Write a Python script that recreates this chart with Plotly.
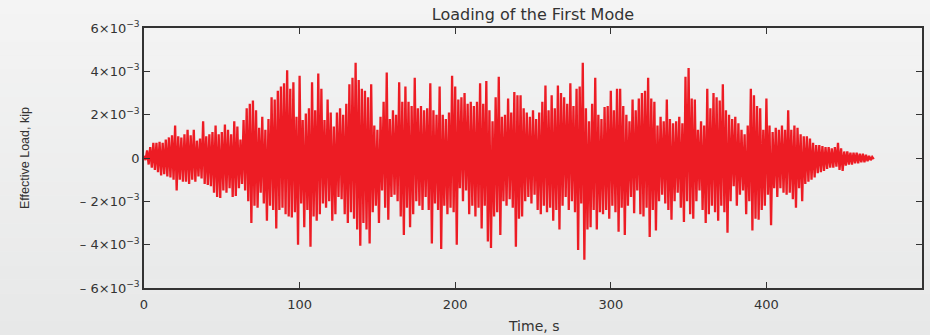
import numpy as np
import plotly.graph_objects as go

# Peak loads (units of 1e-3 kip), one positive and one negative peak per 2 s window
peak_time = list(range(0, 470, 2))
pos_peak = [
    0.1, 0.35, 0.5, 0.7, 0.7, 0.75, 0.7, 0.85, 0.95, 1.05, 1.5,
    1.0, 0.95, 1.1, 1.3, 1.05, 1.3, 0.8, 0.9, 1.7, 1.0,
    1.1, 1.2, 1.5, 1.1, 1.2, 1.55, 1.3, 1.1, 1.7, 1.45,
    0.85, 1.75, 2.3, 2.5, 2.65, 2.2, 1.4, 1.9, 1.3, 1.8,
    2.8, 2.7, 3.1, 3.3, 3.45, 4.05, 3.2, 3.5, 1.9, 3.8,
    1.75, 2.05, 2.3, 3.5, 2.2, 3.9, 3.2, 1.75, 2.7, 2.1,
    1.45, 2.1, 2.3, 2.0, 2.5, 3.4, 3.7, 4.4, 3.6, 3.2,
    3.1, 2.8, 3.4, 1.5, 1.3, 1.9, 2.6, 3.95, 1.8, 2.2,
    2.0, 3.5, 2.6, 3.3, 2.6, 2.4, 3.7, 2.3, 2.4, 2.2,
    2.3, 3.45, 2.2, 2.0, 3.3, 2.0, 1.8, 2.1, 3.8, 3.3,
    2.7, 2.8, 3.0, 2.5, 2.6, 2.4, 2.6, 3.45, 2.5, 3.55,
    2.2, 1.7, 2.8, 3.75, 1.9, 2.0, 2.75, 2.1, 3.05, 2.9,
    2.9, 2.3, 2.1, 1.9, 2.2, 1.8, 2.1, 2.6, 3.35, 2.2,
    2.9, 2.3, 3.35, 3.0, 2.8, 2.5, 3.45, 2.4, 3.2, 3.3,
    4.4, 2.3, 1.7, 2.5, 3.7, 2.0, 1.8, 2.35, 2.4, 3.1,
    2.2, 3.2, 3.2, 2.4, 2.0, 1.7, 2.7, 2.2, 2.75, 3.0,
    3.1, 3.7, 2.75, 2.6, 1.5, 1.9, 1.7, 2.7, 1.8, 1.6,
    1.7, 1.9, 1.6, 3.75, 4.15, 2.75, 2.7, 1.3, 1.7, 1.5,
    3.2, 2.3, 3.0, 2.8, 2.65, 3.4, 2.2, 2.0, 1.8, 1.9,
    1.6, 1.3, 1.1, 1.5, 3.2, 2.9, 2.4, 2.3, 1.3, 2.75,
    1.5, 1.2, 1.4, 1.3, 1.5, 1.3, 2.2, 1.3, 1.5, 1.4,
    1.1, 1.0, 1.0, 0.9, 0.7, 0.6, 0.6, 0.55, 0.5, 0.5,
    0.45, 0.5, 0.7, 0.45, 0.3, 0.3, 0.25, 0.25, 0.25, 0.2,
    0.2, 0.15, 0.1, 0.05,
]
neg_peak = [
    0.1, 0.3, 0.45, 0.55, 0.65, 0.8, 0.75, 0.85, 0.9, 1.0, 1.5,
    1.0, 1.1, 1.1, 1.2, 1.0, 1.1, 0.85, 0.95, 1.2, 1.25,
    1.3, 1.6, 1.8, 1.85, 1.5, 1.6, 1.4, 1.8, 1.75, 1.4,
    1.2, 1.5, 2.0, 3.0, 2.2, 2.3, 1.6, 2.1, 2.9, 2.2,
    2.4, 3.25, 2.4, 2.3, 2.6, 2.7, 2.75, 2.5, 4.0, 2.1,
    3.2, 2.4, 4.1, 2.7, 2.9, 2.6, 2.1, 2.3, 2.0, 2.9,
    2.6, 1.8, 1.9, 2.6, 3.0, 2.5, 2.8, 3.3, 4.05, 3.0,
    3.3, 3.95, 2.5, 2.2, 3.0, 1.5, 2.3, 2.85, 1.8, 1.7,
    2.0, 2.7, 3.55, 2.3, 3.2, 2.6, 2.0, 2.2, 2.4, 1.8,
    2.4, 3.95, 2.1, 2.4, 4.2, 2.2, 2.6, 2.3, 2.5, 4.0,
    1.4, 2.0, 1.5, 2.6, 2.2, 2.7, 2.3, 3.25, 2.2, 3.85,
    4.15, 2.7, 2.5, 3.55, 2.0, 2.2, 1.9, 2.3, 4.1, 2.8,
    2.7, 2.0, 1.8, 2.1, 1.7, 2.4, 2.6, 2.2, 2.5, 2.3,
    2.9, 2.4, 3.3, 2.2, 1.8, 2.4, 2.0, 2.5, 4.25, 2.1,
    4.7, 3.3, 3.2, 2.4, 3.3, 2.5, 2.6, 2.4, 2.8, 2.2,
    2.5, 3.4, 2.3, 3.55, 2.2, 1.8, 2.55, 1.5, 2.6, 2.7,
    2.3, 3.65, 2.4, 3.35, 2.0, 1.7, 2.1, 2.4, 2.85, 2.0,
    1.6, 2.3, 2.95, 2.0, 2.6, 2.8, 2.0, 1.5, 2.4, 3.0,
    2.6, 2.2, 2.5, 2.9, 2.2, 2.5, 3.45, 2.0, 1.3, 2.2,
    1.7, 1.5, 2.6, 2.0, 3.35, 2.8, 2.85, 2.4, 2.2, 1.7,
    3.1, 1.4, 1.8, 1.4, 1.6, 1.7, 1.6, 1.9, 2.3, 1.4,
    2.0, 1.2, 1.1, 1.0, 0.9, 0.7, 0.65, 0.6, 0.5, 0.45,
    0.45, 0.4, 0.55, 0.6, 0.35, 0.3, 0.3, 0.25, 0.25, 0.2,
    0.2, 0.15, 0.1, 0.05,
]

y_tickvals = [-6, -4, -2, 0, 2, 4, 6]
y_ticktext = ["\u2013 6\u00d710<sup>\u22123</sup>", "\u2013 4\u00d710<sup>\u22123</sup>",
              "\u2013 2\u00d710<sup>\u22123</sup>", "0",
              "2\u00d710<sup>\u22123</sup>", "4\u00d710<sup>\u22123</sup>",
              "6\u00d710<sup>\u22123</sup>"]
x_tickvals = [0, 100, 200, 300, 400]

# Interleave positive and negative peaks into one oscillating record
n = min(len(peak_time), len(pos_peak), len(neg_peak))
t = np.empty(2 * n)
load = np.empty(2 * n)
t[0::2] = np.array(peak_time[:n], dtype=float)
t[1::2] = np.array(peak_time[:n], dtype=float) + 1.0
load[0::2] = np.array(pos_peak[:n]) * 1e-3
load[1::2] = -np.array(neg_peak[:n]) * 1e-3

RED = "#ed1c24"
fig = go.Figure()
fig.add_trace(go.Scatter(x=t, y=load, mode="lines",
                         line=dict(color=RED, width=2.3),
                         hoverinfo="skip", showlegend=False))

# soft vertical background gradient
W, H = 930, 335
ml, mr, mt, mb = 144, 8, 28, 47
pw, ph = W - ml - mr, H - mt - mb
bands = 24
top_c = np.array([244, 244, 244])
bot_c = np.array([231, 232, 232])
shapes = []
for k in range(bands):
    f = (k + 0.5) / bands
    c = top_c + (bot_c - top_c) * f
    y_top = H * (1 - k / bands)
    y_bot = H * (1 - (k + 1) / bands)
    shapes.append(dict(
        type="rect", xref="paper", yref="paper", layer="below",
        x0=-ml / pw, x1=1 + mr / pw,
        y0=(y_bot - mb) / ph, y1=(y_top - mb) / ph,
        line=dict(width=0),
        fillcolor="rgb(%d,%d,%d)" % tuple(int(round(v)) for v in c)))

FONT = "DejaVu Sans"
INK = "#333333"
axis_common = dict(showline=True, linecolor=INK, linewidth=1.6,
                   mirror="ticks", ticks="inside", ticklen=6, tickwidth=1.2,
                   tickcolor=INK, showgrid=False, zeroline=False,
                   automargin=False,
                   tickfont=dict(family=FONT, size=13, color=INK))

# axis titles placed in pixel terms relative to the plot area
annotations = [
    dict(text="Time, s", xref="paper", yref="paper",
         x=(533 - ml) / pw, y=-(326 - (H - mb)) / ph,
         xanchor="center", yanchor="middle", showarrow=False,
         font=dict(family=FONT, size=14, color=INK)),
    dict(text="Effective Load, kip", xref="paper", yref="paper",
         x=-(ml - 25) / pw, y=((H - mb) - 158) / ph, textangle=-90,
         xanchor="center", yanchor="middle", showarrow=False,
         font=dict(family="Liberation Sans", size=12.5, color=INK)),
]

fig.update_layout(
    width=W, height=H,
    margin=dict(l=ml, r=mr, t=mt, b=mb, autoexpand=False),
    paper_bgcolor="#eeeeee",
    plot_bgcolor="rgba(0,0,0,0)",
    shapes=shapes,
    annotations=annotations,
    title=dict(text="Loading of the First Mode", x=(ml + pw / 2) / W, xanchor="center",
               y=1 - 14 / H, yanchor="middle",
               font=dict(family=FONT, size=16, color=INK)),
    xaxis=dict(range=[0, 500], tickvals=x_tickvals, ticklabelstandoff=4, **axis_common),
    yaxis=dict(range=[-6e-3, 6e-3], tickvals=[v * 1e-3 for v in y_tickvals],
               ticktext=y_ticktext, **axis_common),
)

fig.write_html("out.html")
